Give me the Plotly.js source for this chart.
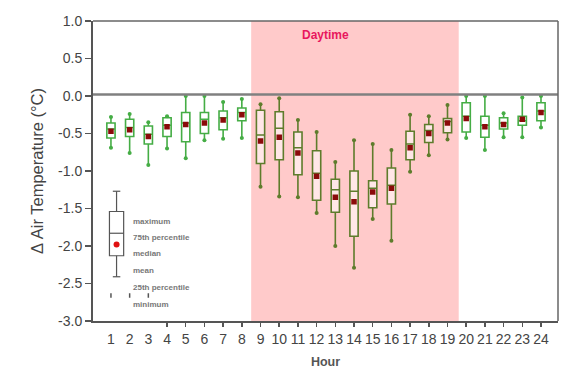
<!DOCTYPE html>
<html><head><meta charset="utf-8">
<script src="https://cdn.plot.ly/plotly-3.0.1.min.js"></script>
<style>html,body{margin:0;padding:0;background:#fff}#c{width:573px;height:369px}</style>
</head><body><div id="c"></div>
<script>
const hours = [1,2,3,4,5,6,7,8,9,10,11,12,13,14,15,16,17,18,19,20,21,22,23,24];
const maxVals = [-0.28,-0.24,-0.35,-0.27,0.00,0.00,-0.08,-0.04,-0.11,-0.03,-0.32,-0.48,-0.88,-0.59,-0.64,-0.72,-0.25,-0.27,-0.12,0.00,0.00,-0.23,-0.02,0.00];
const q3Vals  = [-0.36,-0.31,-0.40,-0.29,-0.22,-0.22,-0.20,-0.16,-0.19,-0.21,-0.48,-0.73,-1.11,-1.00,-1.13,-0.96,-0.47,-0.38,-0.30,-0.09,-0.27,-0.29,-0.27,-0.09];
const medVals = [-0.44,-0.42,-0.51,-0.39,-0.36,-0.31,-0.29,-0.22,-0.52,-0.43,-0.69,-1.03,-1.25,-1.27,-1.23,-1.19,-0.64,-0.46,-0.34,-0.27,-0.39,-0.36,-0.33,-0.20];
const meanVals= [-0.47,-0.45,-0.54,-0.41,-0.38,-0.36,-0.32,-0.25,-0.60,-0.55,-0.76,-1.07,-1.35,-1.41,-1.28,-1.23,-0.69,-0.50,-0.36,-0.30,-0.41,-0.38,-0.31,-0.22];
const q1Vals  = [-0.56,-0.54,-0.64,-0.54,-0.61,-0.50,-0.45,-0.33,-0.90,-0.85,-1.05,-1.39,-1.55,-1.87,-1.49,-1.44,-0.85,-0.62,-0.49,-0.48,-0.55,-0.44,-0.39,-0.33];
const minVals = [-0.69,-0.76,-0.92,-0.70,-0.83,-0.59,-0.57,-0.56,-1.21,-1.34,-1.35,-1.56,-2.00,-2.29,-1.64,-1.93,-1.01,-0.79,-0.58,-0.56,-0.72,-0.55,-0.55,-0.42];
const dayStart = 9, dayEnd = 19;
const legendLabels = ["maximum","75th percentile","median","mean","25th percentile","minimum"];
const legendLabelY = [-1.67,-1.88,-2.10,-2.32,-2.55,-2.78];
const legendBox = {max:-1.27, q3:-1.54, med:-1.83, mean:-1.98, q1:-2.13, min:-2.41};

const nightColor = '#45ad45', dayColor = '#5e7c2c';
function pick(arr, day){ return arr.filter((v,i)=> (hours[i]>=dayStart && hours[i]<=dayEnd) === day); }
const traces = [];
[false,true].forEach(day=>{
  const col = day ? dayColor : nightColor;
  traces.push({
    type:'box', x:pick(hours,day), q1:pick(q1Vals,day), median:pick(medVals,day), q3:pick(q3Vals,day),
    lowerfence:pick(minVals,day), upperfence:pick(maxVals,day),
    width:0.44, whiskerwidth:0.35, line:{color:col,width:1.6}, fillcolor:'rgba(255,255,255,0.55)',
    boxpoints:false, hoverinfo:'skip', showlegend:false
  });
  traces.push({type:'scatter', mode:'markers', x:pick(hours,day).concat(pick(hours,day)),
    y:pick(maxVals,day).concat(pick(minVals,day)),
    marker:{size:4, color:col}, showlegend:false, hoverinfo:'skip'});
});
traces.push({type:'scatter', mode:'markers', x:hours, y:meanVals,
  marker:{symbol:'square', size:5.5, color:'#8a0a0a', line:{width:0}}, showlegend:false});
// axis ticks 4..24 on overlay axis
traces.push({type:'scatter', x:[1], y:[-5], xaxis:'x2', mode:'markers', marker:{opacity:0}, showlegend:false, hoverinfo:'skip'});

const lx = 1.3, lw = 0.38, gray = '#555';
// legend key mean dot
traces.push({type:'scatter', mode:'markers', x:[lx], y:[legendBox.mean], marker:{size:6, color:'#e01010'}, showlegend:false, hoverinfo:'skip'});

const shapes = [
  {type:'rect', xref:'x', yref:'paper', x0:8.5, x1:19.6, y0:0, y1:1, fillcolor:'#ffcaca', line:{width:0}, layer:'below'},
  {type:'line', xref:'paper', yref:'y', x0:0, x1:1, y0:0.02, y1:0.02, line:{color:'#808080', width:2.5}},
  {type:'line', x0:lx, x1:lx, y0:legendBox.max, y1:legendBox.q3, line:{color:gray,width:1.2}},
  {type:'line', x0:lx, x1:lx, y0:legendBox.q1, y1:legendBox.min, line:{color:gray,width:1.2}},
  {type:'line', x0:lx-0.2, x1:lx+0.2, y0:legendBox.max, y1:legendBox.max, line:{color:gray,width:1.2}},
  {type:'line', x0:lx-0.2, x1:lx+0.2, y0:legendBox.min, y1:legendBox.min, line:{color:gray,width:1.2}},
  {type:'rect', x0:lx-lw, x1:lx+lw, y0:legendBox.q1, y1:legendBox.q3, line:{color:gray,width:1.2}, fillcolor:'white', layer:'below'},
  {type:'line', x0:lx-lw, x1:lx+lw, y0:legendBox.med, y1:legendBox.med, line:{color:gray,width:1.2}}
];
[1,2,3].forEach(h=>shapes.push({type:'line', x0:h, x1:h, y0:-2.63, y1:-2.69, line:{color:gray,width:1.5}}));

const annotations = legendLabels.map((t,i)=>({x:2.05, y:legendLabelY[i], text:'<b>'+t+'</b>', showarrow:false, xanchor:'left',
  font:{family:'Liberation Sans, Arial', size:8, color:'#777'}}));
annotations.push({x:12.45, y:0.81, text:'<b>Daytime</b>', showarrow:false, font:{family:'Liberation Sans, Arial', size:12, color:'#e8175d'}});

const layout = {
  width:573, height:369, margin:{l:93, r:15, t:21, b:48},
  paper_bgcolor:'#fff', plot_bgcolor:'rgba(0,0,0,0)',
  font:{family:'Liberation Sans, Arial, sans-serif', color:'#4a4a4a'},
  xaxis:{range:[0.04,24.91], tickvals:hours, ticktext:hours.map(String), ticks:'', showgrid:false, zeroline:false,
    showline:true, linecolor:'#555', linewidth:2, mirror:false, tickfont:{size:14, color:'#444'}, ticklabelstandoff:4,
    title:{text:'<b>Hour</b>', font:{size:12.5, color:'#555'}, standoff:14}},
  xaxis2:{range:[0.04,24.91], overlaying:'x', side:'bottom', tickvals:hours.slice(3), ticks:'outside', ticklen:5, tickwidth:1.5,
    tickcolor:'#555', showticklabels:false, showgrid:false, zeroline:false, showline:false},
  yaxis:{range:[-3,1], tickvals:[-3,-2.5,-2,-1.5,-1,-0.5,0,0.5,1], ticktext:['-3.0','-2.5','-2.0','-1.5','-1.0','-0.5','0.0','0.5','1.0'],
    ticks:'outside', ticklen:6, tickwidth:1.5, tickcolor:'#555', showgrid:false, zeroline:false,
    showline:true, linecolor:'#555', linewidth:2, tickfont:{size:14, color:'#444'},
    title:{text:'Δ Air Temperature (°C)', font:{size:16.5, color:'#444'}, standoff:10}},
  shapes: shapes.concat([
    {type:'line', xref:'paper', yref:'paper', x0:0, x1:1, y0:1, y1:1, line:{color:'#666',width:1.5}},
    {type:'line', xref:'paper', yref:'paper', x0:1, x1:1, y0:0, y1:1, line:{color:'#666',width:1.5}}
  ]),
  annotations: annotations
};
Plotly.newPlot('c', traces, layout, {displayModeBar:false, staticPlot:true});
</script></body></html>
